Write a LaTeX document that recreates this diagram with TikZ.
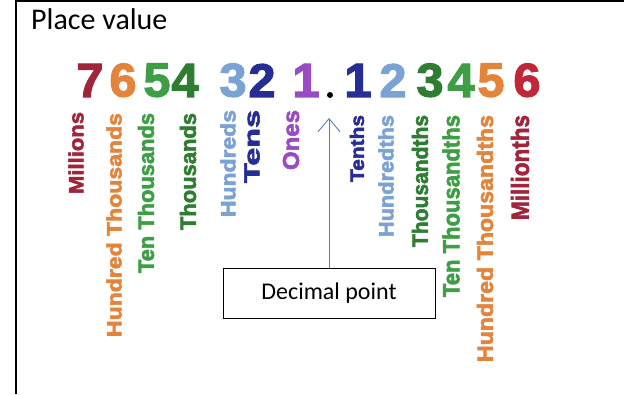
\documentclass[tikz,border=0pt]{standalone}
\usepackage{fontspec}
\setmainfont{Carlito}
\newfontfamily\lab[BoldFeatures={FakeBold=2.5}]{Liberation Sans}
\usetikzlibrary{arrows.meta}
\definecolor{cRed}{HTML}{A0243A}
\definecolor{cRedB}{HTML}{C0283A}
\definecolor{cOrange}{HTML}{E4843A}
\definecolor{cGreen}{HTML}{3E9E46}
\definecolor{cDGreen}{HTML}{2E7D32}
\definecolor{cLBlue}{HTML}{7AA2D4}
\definecolor{cDBlue}{HTML}{262E96}
\definecolor{cPurple}{HTML}{9A4BC4}
\definecolor{cArrow}{HTML}{4F81BD}
\begin{document}
\begin{tikzpicture}[x=1pt,y=1pt,
  vw/.style={rotate=90, anchor=east, inner sep=0pt, outer sep=0pt},
  dg/.style={anchor=south, inner sep=0pt, outer sep=0pt},
  frame/.style={line width=2pt},
  arr/.style={draw=cArrow, line width=0.9pt, -{Straight Barb[length=13pt,width=22pt,line width=0.9pt]}},
  boxstyle/.style={draw=black, line width=0.9pt, fill=white, minimum width=212pt, minimum height=50pt, inner sep=0pt, font=\fontsize{24}{28}\selectfont}
]
\useasboundingbox (0,0) rectangle (624,394);
\fill[white] (0,0) rectangle (624,394);
\draw[frame] (16,0) -- (16,393) -- (624,393);

\node[anchor=base west, inner sep=0pt, font=\fontsize{30}{34}\selectfont] (title) at (31,364) {Place value};

% digits
\foreach \cx/\col/\ch/\nm in {90/cRed/7/a, 123/cOrange/6/b, 157/cGreen/5/c, 185/cDGreen/4/d, 233/cLBlue/3/e, 262/cDBlue/2/f, 306/cPurple/1/g,
  358/cDBlue/1/h, 393/cLBlue/2/i, 430/cDGreen/3/j, 461/cGreen/4/k, 491/cOrange/5/l, 527/cRedB/6/m}
  \node[dg, text=\col] (d-\nm) at (\cx,297) {\resizebox{27pt}{33pt}{\lab\bfseries \ch}};
\node[circle, fill=black, inner sep=0pt, minimum size=6pt] (dot) at (330,299) {};

% vertical words
\foreach \cx/\ty/\len/\hh/\col/\word/\nm in {
  76/282/82/15/cRed/Millions/w1,
  114/281/224/15/cOrange/Hundred Thousands/w2,
  146/281/160/16/cGreen/Ten Thousands/w3,
  188/281/117/16/cDGreen/Thousands/w4,
  228/284/107/15/cLBlue/Hundreds/w5,
  252/284/73/15/cDBlue/Tens/w6,
  291/284/60/16/cPurple/Ones/w7,
  357/279/67/14/cDBlue/Tenths/w8,
  386/279/122/15/cLBlue/Hundredths/w9,
  420/279/132/16/cDGreen/Thousandths/w10,
  451/279/182/17/cGreen/Ten Thousandths/w11,
  485/279/247/16/cOrange/Hundred Thousandths/w12,
  520/279/105/18/cRed/Millionths/w13}
  \node[vw, text=\col] (\nm) at (\cx,\ty) {\resizebox{\len pt}{\hh pt}{\lab\bfseries \word}};

% decimal point box and arrow
\node[boxstyle] (box) at (329,101) {Decimal point};
\coordinate (tip) at (329,276);
\draw[arr] (box) -- (tip);
\end{tikzpicture}
\end{document}
